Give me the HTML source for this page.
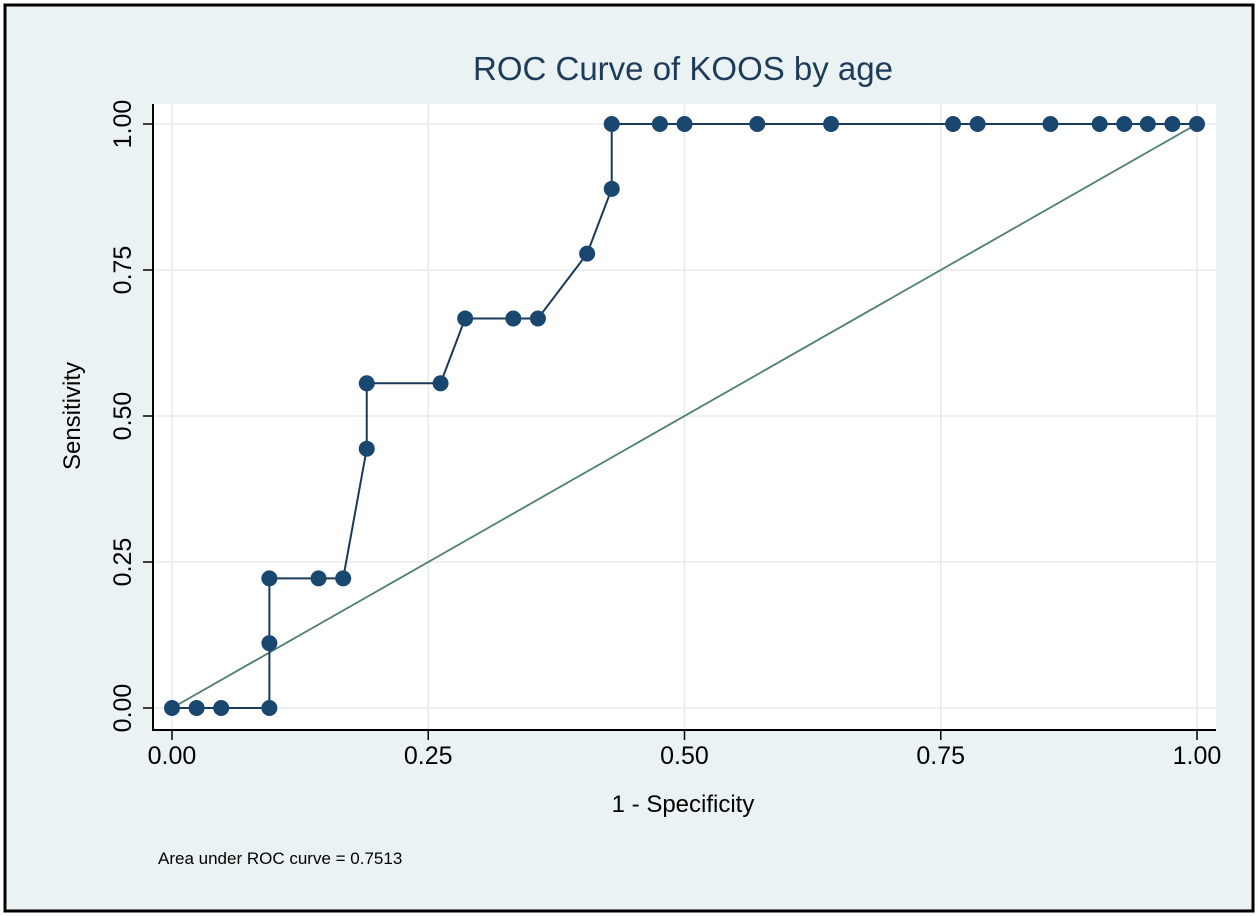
<!DOCTYPE html>
<html><head><meta charset="utf-8"><style>
body{margin:0;background:#fff}
svg{display:block}
text{font-family:"Liberation Sans",sans-serif}
</style></head><body>
<svg id="c" width="1258" height="916">
<rect x="5" y="5" width="1248" height="906" fill="#eaf2f3" stroke="#000" stroke-width="3"/>
<rect x="153" y="104" width="1063" height="626" fill="#fff"/>
<text x="683" y="80" font-size="33" text-anchor="middle" fill="#1e3b5a">ROC Curve of KOOS by age</text>
<text x="683" y="812" font-size="24" text-anchor="middle" fill="#000">1 - Specificity</text>
<text transform="translate(80,416) rotate(-90)" font-size="24" text-anchor="middle" fill="#000">Sensitivity</text>
<text x="158" y="864" font-size="17" fill="#000">Area under ROC curve = 0.7513</text>
<g id="grid"></g><g id="axes"></g><g id="series"></g>
</svg>
<script>
const xTicks=[0,0.25,0.5,0.75,1];
const yTicks=[0,0.25,0.5,0.75,1];
const tickLabels=["0.00","0.25","0.50","0.75","1.00"];
const fpr=[0,0.024,0.048,0.095,0.095,0.095,0.143,0.167,0.19,0.19,0.262,0.286,0.333,0.357,0.405,0.429,0.429,0.476,0.5,0.571,0.643,0.762,0.786,0.857,0.905,0.929,0.952,0.976,1];
const tpr=[0,0,0,0,0.111,0.222,0.222,0.222,0.444,0.556,0.556,0.667,0.667,0.667,0.778,0.889,1,1,1,1,1,1,1,1,1,1,1,1,1];
const NS="http://www.w3.org/2000/svg";
const sx=v=>172+v*1025, sy=v=>708-v*584;
function mk(tag,attrs,parent){const e=document.createElementNS(NS,tag);for(const k in attrs)e.setAttribute(k,attrs[k]);document.getElementById(parent).appendChild(e);return e;}
xTicks.forEach((t,i)=>{
 const g=mk('line',{x1:sx(t),x2:sx(t),y1:104,y2:730,stroke:'#e6ebee','stroke-width':1.5},'grid');
 
 
 const tk=mk('line',{x1:sx(t),x2:sx(t),y1:730,y2:740,stroke:'#000','stroke-width':1.5},'axes');
 
 
 const l=mk('text',{x:sx(t),y:764,'font-size':25,'text-anchor':'middle'},'axes');
 l.textContent=tickLabels[i];
 
 
});
yTicks.forEach((t,i)=>{
 const g=mk('line',{x1:153,x2:1216,y1:sy(t),y2:sy(t),stroke:'#e6ebee','stroke-width':1.5},'grid');
 
 
 const tk=mk('line',{x1:143,x2:153,y1:sy(t),y2:sy(t),stroke:'#000','stroke-width':1.5},'axes');
 
 
 const l=mk('text',{transform:`translate(131,${sy(t)}) rotate(-90)`,'font-size':25,'text-anchor':'middle'},'axes');
 l.textContent=tickLabels[i];
 
 
});
const ax=mk('path',{d:'M153,104 L153,730 L1216,730',fill:'none',stroke:'#000','stroke-width':2},'axes');


const dg=mk('line',{x1:sx(0),y1:sy(0),x2:sx(1),y2:sy(1),stroke:'#4f7f6f','stroke-width':1.8},'series');


const pl=mk('polyline',{points:fpr.map((x,i)=>sx(x)+','+sy(tpr[i])).join(' '),fill:'none',stroke:'#1a3a5c','stroke-width':2},'series');


fpr.forEach((x,i)=>{
 const c=mk('circle',{cx:sx(x),cy:sy(tpr[i]),r:8,fill:'#1a476f'},'series');
 
 
});
</script>
</body></html>
